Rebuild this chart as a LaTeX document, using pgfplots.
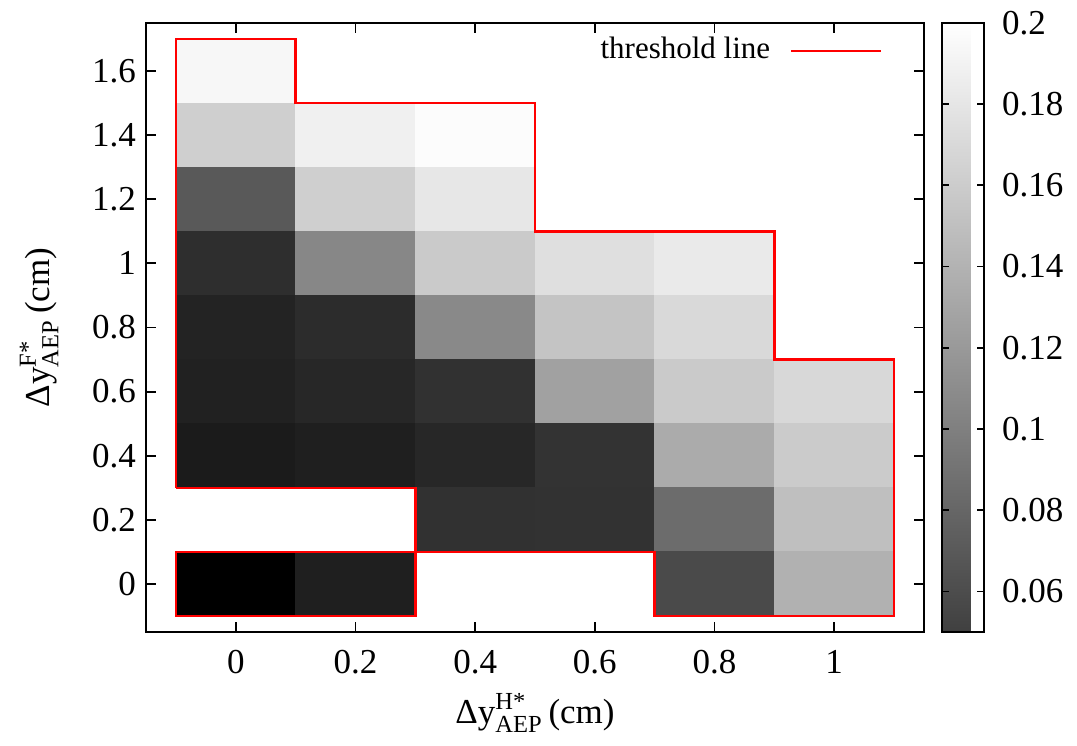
\documentclass[border=0pt]{standalone}
\usepackage{fontspec}
\setmainfont{Liberation Serif}
\usepackage{amsmath}
\usepackage{pgfplots}
\pgfplotsset{compat=1.18}
\newcommand{\fs}{\fontsize{17.5}{20}\selectfont}
\newcommand{\fl}{\fontsize{15.5}{18}\selectfont}
\begin{document}
\fs
\begin{tikzpicture}
\begin{axis}[
  at={(0,0)}, anchor=south west,
  scale only axis, width=389pt, height=304.5pt,
  xmin=-0.15, xmax=1.15, ymin=-0.15, ymax=1.75,
  xtick={0,0.2,0.4,0.6,0.8,1},
  ytick={0,0.2,0.4,0.6,0.8,1,1.2,1.4,1.6},
  tick align=inside, major tick length=5pt,
  tick style={black, line width=0.9pt},
  axis line style={line width=1.3pt},
  tick label style={font=\fs},
  /pgf/number format/assume math mode=true,
  xticklabel style={yshift=-3pt},
  yticklabel style={xshift=1pt},
  label style={font=\fs},
  xlabel={$\text{Δy}^{\text{H*}}_{\text{AEP}}$\,(cm)},
  ylabel={$\text{Δy}^{\text{F*}}_{\text{AEP}}$\,(cm)},
  xlabel style={yshift=2pt},
  ylabel style={yshift=5pt},
  colormap={bw}{gray(0cm)=(0); gray(1cm)=(1)},
  point meta min=0, point meta max=0.2,
  colorbar,
  colorbar style={
    at={(parent axis.north east)}, anchor=north west, xshift=0.5pt,
    scale only axis, width=21pt, height=304.5pt,
    ymin=0.05, ymax=0.2,
    ytick={0.06,0.08,0.1,0.12,0.14,0.16,0.18,0.2},
    scaled y ticks=false,
    yticklabel style={/pgf/number format/fixed, /pgf/number format/precision=2, font=\fs, xshift=3pt},
    /pgf/number format/assume math mode=true,
    tick align=inside, major tick length=3.5pt,
    tick style={black, line width=0.9pt},
    axis line style={line width=1.3pt},
    yticklabel pos=right, ytick pos=both,
  },
  legend style={at={(0.955,0.99)}, anchor=north east, draw=none, fill=none,
    font=\fl, legend plot pos=right, legend cell align=right},
  legend image code/.code={\path (0pt,0pt); \draw[#1] (8pt,0pt) -- (53pt,0pt);},
]
\addplot[patch, patch type=rectangle, shader=flat, point meta=explicit, forget plot]
table[meta=c, row sep=\\] {
x y c\\
-0.1 1.5 0.192\\ 0.1 1.5 0.192\\ 0.1 1.7 0.192\\ -0.1 1.7 0.192\\
-0.1 1.3 0.161\\ 0.1 1.3 0.161\\ 0.1 1.5 0.161\\ -0.1 1.5 0.161\\
0.1 1.3 0.187\\ 0.3 1.3 0.187\\ 0.3 1.5 0.187\\ 0.1 1.5 0.187\\
0.3 1.3 0.196\\ 0.5 1.3 0.196\\ 0.5 1.5 0.196\\ 0.3 1.5 0.196\\
-0.1 1.1 0.069\\ 0.1 1.1 0.069\\ 0.1 1.3 0.069\\ -0.1 1.3 0.069\\
0.1 1.1 0.161\\ 0.3 1.1 0.161\\ 0.3 1.3 0.161\\ 0.1 1.3 0.161\\
0.3 1.1 0.180\\ 0.5 1.1 0.180\\ 0.5 1.3 0.180\\ 0.3 1.3 0.180\\
-0.1 0.9 0.036\\ 0.1 0.9 0.036\\ 0.1 1.1 0.036\\ -0.1 1.1 0.036\\
0.1 0.9 0.105\\ 0.3 0.9 0.105\\ 0.3 1.1 0.105\\ 0.1 1.1 0.105\\
0.3 0.9 0.157\\ 0.5 0.9 0.157\\ 0.5 1.1 0.157\\ 0.3 1.1 0.157\\
0.5 0.9 0.174\\ 0.7 0.9 0.174\\ 0.7 1.1 0.174\\ 0.5 1.1 0.174\\
0.7 0.9 0.182\\ 0.9 0.9 0.182\\ 0.9 1.1 0.182\\ 0.7 1.1 0.182\\
-0.1 0.7 0.027\\ 0.1 0.7 0.027\\ 0.1 0.9 0.027\\ -0.1 0.9 0.027\\
0.1 0.7 0.034\\ 0.3 0.7 0.034\\ 0.3 0.9 0.034\\ 0.1 0.9 0.034\\
0.3 0.7 0.107\\ 0.5 0.7 0.107\\ 0.5 0.9 0.107\\ 0.3 0.9 0.107\\
0.5 0.7 0.153\\ 0.7 0.7 0.153\\ 0.7 0.9 0.153\\ 0.5 0.9 0.153\\
0.7 0.7 0.169\\ 0.9 0.7 0.169\\ 0.9 0.9 0.169\\ 0.7 0.9 0.169\\
-0.1 0.5 0.026\\ 0.1 0.5 0.026\\ 0.1 0.7 0.026\\ -0.1 0.7 0.026\\
0.1 0.5 0.030\\ 0.3 0.5 0.030\\ 0.3 0.7 0.030\\ 0.1 0.7 0.030\\
0.3 0.5 0.038\\ 0.5 0.5 0.038\\ 0.5 0.7 0.038\\ 0.3 0.7 0.038\\
0.5 0.5 0.125\\ 0.7 0.5 0.125\\ 0.7 0.7 0.125\\ 0.5 0.7 0.125\\
0.7 0.5 0.157\\ 0.9 0.5 0.157\\ 0.9 0.7 0.157\\ 0.7 0.7 0.157\\
0.9 0.5 0.168\\ 1.1 0.5 0.168\\ 1.1 0.7 0.168\\ 0.9 0.7 0.168\\
-0.1 0.3 0.021\\ 0.1 0.3 0.021\\ 0.1 0.5 0.021\\ -0.1 0.5 0.021\\
0.1 0.3 0.024\\ 0.3 0.3 0.024\\ 0.3 0.5 0.024\\ 0.1 0.5 0.024\\
0.3 0.3 0.030\\ 0.5 0.3 0.030\\ 0.5 0.5 0.030\\ 0.3 0.5 0.030\\
0.5 0.3 0.040\\ 0.7 0.3 0.040\\ 0.7 0.5 0.040\\ 0.5 0.5 0.040\\
0.7 0.3 0.133\\ 0.9 0.3 0.133\\ 0.9 0.5 0.133\\ 0.7 0.5 0.133\\
0.9 0.3 0.158\\ 1.1 0.3 0.158\\ 1.1 0.5 0.158\\ 0.9 0.5 0.158\\
0.3 0.1 0.038\\ 0.5 0.1 0.038\\ 0.5 0.3 0.038\\ 0.3 0.3 0.038\\
0.5 0.1 0.039\\ 0.7 0.1 0.039\\ 0.7 0.3 0.039\\ 0.5 0.3 0.039\\
0.7 0.1 0.084\\ 0.9 0.1 0.084\\ 0.9 0.3 0.084\\ 0.7 0.3 0.084\\
0.9 0.1 0.149\\ 1.1 0.1 0.149\\ 1.1 0.3 0.149\\ 0.9 0.3 0.149\\
-0.1 -0.1 0.000\\ 0.1 -0.1 0.000\\ 0.1 0.1 0.000\\ -0.1 0.1 0.000\\
0.1 -0.1 0.024\\ 0.3 -0.1 0.024\\ 0.3 0.1 0.024\\ 0.1 0.1 0.024\\
0.7 -0.1 0.058\\ 0.9 -0.1 0.058\\ 0.9 0.1 0.058\\ 0.7 0.1 0.058\\
0.9 -0.1 0.138\\ 1.1 -0.1 0.138\\ 1.1 0.1 0.138\\ 0.9 0.1 0.138\\
};
\addplot[red, line width=1.2pt, line join=miter] coordinates {
(-0.1,0.3) (-0.1,1.7) (0.1,1.7) (0.1,1.5) (0.5,1.5) (0.5,1.1) (0.9,1.1) (0.9,0.7)
(1.1,0.7) (1.1,-0.1) (0.7,-0.1) (0.7,0.1) (0.3,0.1) (0.3,0.3) (-0.1,0.3)};
\addlegendentry{threshold line}
\addplot[red, line width=1.2pt, line join=miter, forget plot] coordinates {
(0.3,0.1) (-0.1,0.1) (-0.1,-0.1) (0.3,-0.1) (0.3,0.1)};
\end{axis}
\pgfresetboundingbox
\path[use as bounding box] (-73pt,-56.5pt) rectangle (465.5pt,316pt);
\end{tikzpicture}
\end{document}
